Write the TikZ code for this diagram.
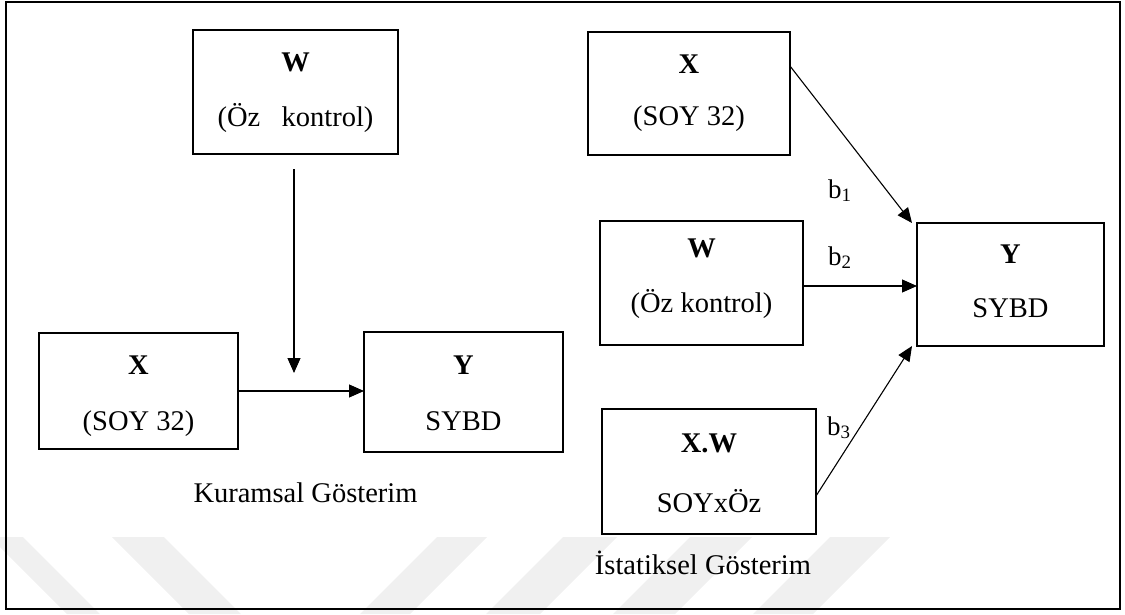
\documentclass[tikz,border=0pt]{standalone}
\usepackage{fontspec}
\setmainfont{Liberation Serif}
\usetikzlibrary{arrows.meta}
\begin{document}
\begin{tikzpicture}[x=1pt,y=-1pt,
  box/.style={draw, line width=2.6pt, inner sep=0pt, outer sep=0pt},
  txt/.style={anchor=base, inner sep=0pt, outer sep=0pt, font=\fontsize{28.5}{34}\selectfont},
  btxt/.style={txt, font=\fontsize{28.5}{34}\selectfont\bfseries},
  coef/.style={anchor=base west, inner sep=0pt, outer sep=0pt, font=\fontsize{27}{32}\selectfont},
  arr/.style={-{Triangle[length=15pt,width=13pt]}, line width=1.1pt},
  wm/.style={fill=black!6}
]
\useasboundingbox (0,0) rectangle (1125,614);

% faint background stripes
\begin{scope}
\clip (0,0) rectangle (1125,614);
\fill[wm] (-10,537) -- (23,537) -- (100,614) -- (67,614) -- cycle;
\fill[wm] (112,537) -- (164,537) -- (241,614) -- (189,614) -- cycle;
\fill[wm] (437,537) -- (487,537) -- (410,614) -- (360,614) -- cycle;
\fill[wm] (563,537) -- (617,537) -- (540,614) -- (486,614) -- cycle;
\fill[wm] (690,537) -- (752,537) -- (675,614) -- (613,614) -- cycle;
\fill[wm] (830,537) -- (890,537) -- (813,614) -- (753,614) -- cycle;
\end{scope}

% outer frame
\draw[line width=2.5pt] (6,2) rectangle (1120,609);

% ---- theoretical model ----
\node[box, minimum width=205pt, minimum height=124pt] (w1) at (295.5,92) {};
\node[btxt] (w1a) at (295.5,71) {W};
\node[txt] (w1b) at (295.5,126) {(Öz\ \ \ kontrol)};

\node[box, minimum width=199pt, minimum height=116pt] (x1) at (138.5,391) {};
\node[btxt] (x1a) at (138.5,374) {X};
\node[txt] (x1b) at (138.5,430) {(SOY 32)};

\node[box, minimum width=199pt, minimum height=120pt] (y1) at (463.5,392) {};
\node[btxt] (y1a) at (463.5,374) {Y};
\node[txt] (y1b) at (463.5,430) {SYBD};

\node[txt] (cap1) at (305.5,502) {Kuramsal Gösterim};

\coordinate (wtop) at (294,169);
\coordinate (wend) at (294,373);
\draw[arr] (wtop) -- (wend);
\draw[arr] (x1.east) -- (x1.east -| y1.west);

% ---- statistical model ----
\node[box, minimum width=202pt, minimum height=123pt] (x2) at (689,93.5) {};
\node[btxt] (x2a) at (689,73) {X};
\node[txt] (x2b) at (689,125) {(SOY 32)};

\node[box, minimum width=203pt, minimum height=124pt] (w2) at (701.5,283) {};
\node[btxt] (w2a) at (701.5,257) {W};
\node[txt] (w2b) at (701.5,312) {(Öz kontrol)};

\node[box, minimum width=187pt, minimum height=123pt] (y2) at (1010.5,284.5) {};
\node[btxt] (y2a) at (1010.5,263) {Y};
\node[txt] (y2b) at (1010.5,317) {SYBD};

\node[box, minimum width=214pt, minimum height=125pt] (xw) at (709,471.5) {};
\node[btxt] (xwa) at (709,452) {X.W};
\node[txt] (xwb) at (709,512) {SOYxÖz};

\node[txt] (cap2) at (703,574) {İstatiksel Gösterim};

\draw[arr] ([yshift=27.5pt]x2.east) -- ([xshift=-5pt]y2.north west);
\draw[arr] ([yshift=-3pt]w2.east) -- ([yshift=-3pt]w2.east -| y2.west);
\draw[arr] ([yshift=-24.5pt]xw.east) -- ([xshift=-5pt]y2.south west);

\node[coef] (b1) at (828,198) {b\textsubscript{1}};
\node[coef] (b2) at (828,265) {b\textsubscript{2}};
\node[coef] (b3) at (827,435) {b\textsubscript{3}};
\end{tikzpicture}
\end{document}
